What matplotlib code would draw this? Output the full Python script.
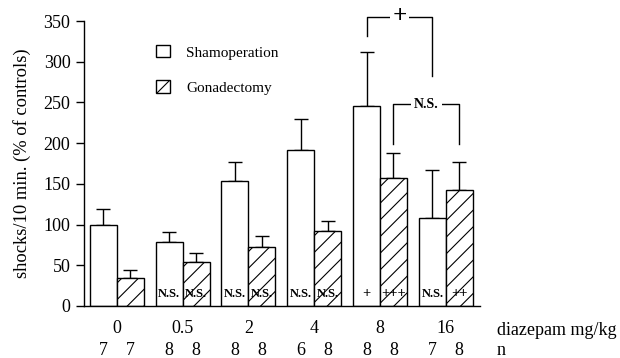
import matplotlib
matplotlib.use("Agg")
import matplotlib.pyplot as plt
from matplotlib.transforms import blended_transform_factory
import numpy as np

plt.rcParams['font.family'] = ['Liberation Serif', 'DejaVu Serif']
plt.rcParams['hatch.linewidth'] = 0.8

doses = ["0", "0.5", "2", "4", "8", "16"]
sham = [100, 78, 154, 192, 246, 108]
sham_err = [19, 13, 23, 38, 66, 59]
gonad = [35, 54, 73, 92, 157, 142]
gonad_err = [9, 11, 13, 12, 31, 35]
n_sham = [7, 8, 8, 6, 8, 7]
n_gonad = [7, 8, 8, 8, 8, 8]
sig_sham = ["", "N.S.", "N.S.", "N.S.", "+", "N.S."]
sig_gonad = ["", "N.S.", "N.S.", "N.S.", "+++", "++"]

fig = plt.figure(figsize=(6.2, 3.58), dpi=100)
ax = fig.add_axes([84/620, 1-306/358, (480-84)/620, (306-21)/358])

x = np.arange(len(doses))
w = 0.41
off = 0.205
xs = x - off
xg = x + off

ax.bar(xs, sham, w, color='white', edgecolor='black', linewidth=1.0,
       label='Shamoperation', zorder=2)
ax.bar(xg, gonad, w, color='white', edgecolor='black', linewidth=1.0,
       hatch='//', label='Gonadectomy', zorder=2)

ax.errorbar(xs, sham, yerr=[np.zeros(len(sham)), sham_err], fmt='none',
            ecolor='black', elinewidth=1.0, capsize=4.7, capthick=1.0, zorder=1)
ax.errorbar(xg, gonad, yerr=[np.zeros(len(gonad)), gonad_err], fmt='none',
            ecolor='black', elinewidth=1.0, capsize=4.7, capthick=1.0, zorder=1)

def sig_text(xi, s):
    if not s:
        return
    fs = 10.5 if s.startswith('+') else 9
    ax.text(xi, 15, s, ha='center', va='center', fontsize=fs,
            fontweight='bold', zorder=3)

for xi, s in zip(xs, sig_sham):
    sig_text(xi, s)
for xi, s in zip(xg, sig_gonad):
    sig_text(xi, s)

# brackets
def bracket(x1, x2, ytop, yl, yr, label, fs):
    ax.plot([x1, x1, x2, x2], [yl, ytop, ytop, yr], color='black', lw=1.0,
            clip_on=False, zorder=3)
    ax.text((x1 + x2) / 2, ytop, label, ha='center', va='center', fontsize=fs,
            fontweight='bold', clip_on=False, zorder=4,
            bbox=dict(facecolor='white', edgecolor='none', pad=2.0))

bracket(xs[4], xs[5], 355, 332, 282, "+", 18)
bracket(xg[4], xg[5], 248, 199, 199, "N.S.", 10)

ax.set_xlim(-0.5, 5.52)
ax.set_ylim(0, 350)
ax.set_yticks(np.arange(0, 351, 50))
ax.set_xticks(x)
ax.set_xticklabels(doses, fontsize=13)
ax.tick_params(axis='x', length=0, pad=10)
ax.tick_params(axis='y', length=5.8, width=1.0, direction='out', pad=4, labelsize=13)
for sp in ['top', 'right']:
    ax.spines[sp].set_visible(False)
ax.spines['left'].set_linewidth(1.0)
ax.spines['bottom'].set_linewidth(1.0)

ax.set_ylabel("shocks/10 min. (% of controls)", fontsize=13.3, labelpad=9)

tr = blended_transform_factory(ax.transData, ax.transAxes)
for xi, nv in zip(xs, n_sham):
    ax.text(xi, -0.155, str(nv), transform=tr, ha='center', va='center', fontsize=13)
for xi, nv in zip(xg, n_gonad):
    ax.text(xi, -0.155, str(nv), transform=tr, ha='center', va='center', fontsize=13)
ax.text(1.042, -0.085, "diazepam mg/kg", transform=ax.transAxes, ha='left',
        va='center', fontsize=13)
ax.text(1.042, -0.155, "n", transform=ax.transAxes, ha='left', va='center', fontsize=13)

ax.legend(loc='upper left', bbox_to_anchor=(0.182, 0.915), frameon=False,
          fontsize=11, handlelength=0.92, handleheight=0.85, handletextpad=1.05,
          labelspacing=1.36, borderpad=0, borderaxespad=0)

fig.savefig("out.png", dpi=100)
